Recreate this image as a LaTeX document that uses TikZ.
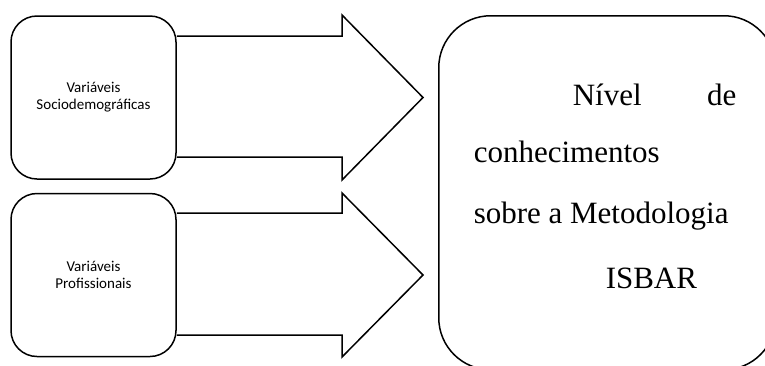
\documentclass[tikz,border=0pt]{standalone}
\usepackage{fontspec}
\setmainfont{Liberation Serif}
\newfontfamily\calib{Carlito}
\begin{document}
\begin{tikzpicture}[x=1pt,y=-1pt,
  line width=1.5pt, line join=miter,
  inbox/.style={draw, rounded corners=26pt, minimum width=165pt, minimum height=163pt,
     inner sep=0pt, align=center, font=\calib\fontsize{15}{17}\selectfont},
  bigtxt/.style={anchor=base west, inner sep=0pt, font=\fontsize{31}{31}\selectfont}]
\useasboundingbox (0,0) rectangle (765,365);
\begin{scope}
\clip (0,0) rectangle (765,365);
\node[draw, rounded corners=52pt, minimum width=337pt, minimum height=354pt, inner sep=0pt,
  anchor=north west] (out) at (438,15) {};
\end{scope}
\node[inbox] (soc) at (93.5,97.5) {Variáveis\\Sociodemográficas};
\node[inbox] (prof) at (93.5,275) {Variáveis\\Profissionais};
% block arrows
\draw (soc.east |- 0,36) -- (342,36) -- (342,15) -- (423,97.5) -- (342,180) -- (342,157) -- (soc.east |- 0,157);
\draw (prof.east |- 0,213) -- (342,213) -- (342,193) -- (423,275) -- (342,357) -- (342,335) -- (prof.east |- 0,335);
% text of output box
\node[bigtxt] (t1a) at (572,105) {Nível};
\node[bigtxt, anchor=base east] (t1b) at (737,105) {de};
\node[bigtxt] (t2) at (473,162) {conhecimentos};
\node[bigtxt] (t3) at (473,223) {sobre a Metodologia};
\node[bigtxt] (t4) at (605,288) {ISBAR};
\end{tikzpicture}
\end{document}
